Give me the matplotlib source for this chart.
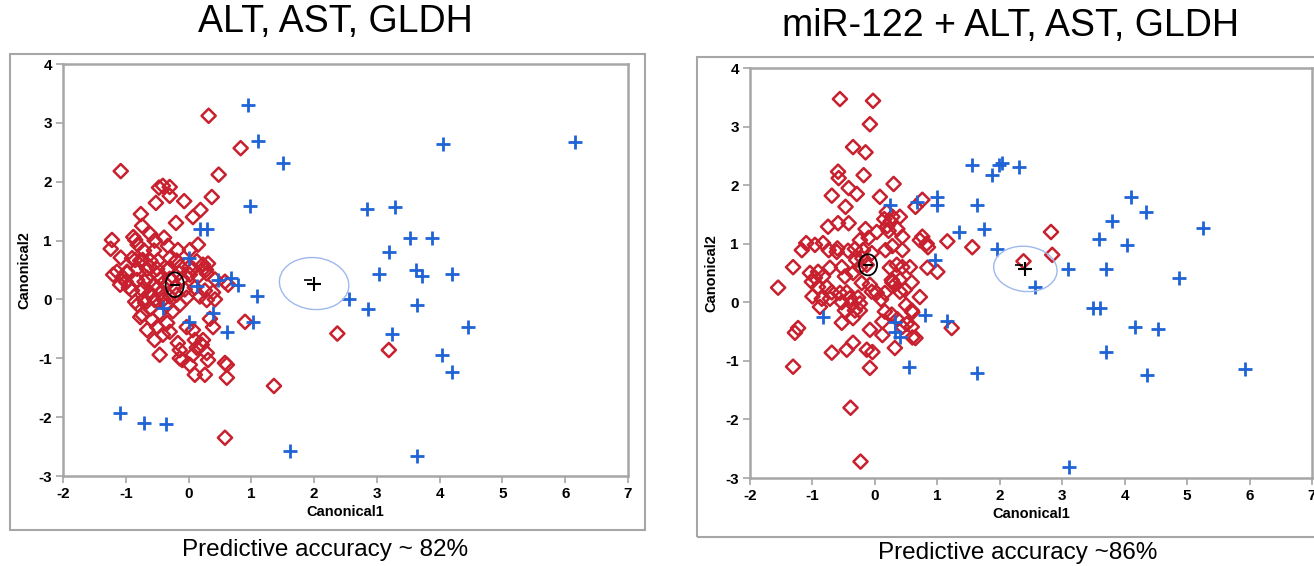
import numpy as np
import matplotlib
matplotlib.use("Agg")
import matplotlib.pyplot as plt
from matplotlib.patches import Ellipse, Rectangle

plt.rcParams['font.family'] = ['Liberation Sans', 'DejaVu Sans']
plt.rcParams['axes.unicode_minus'] = False

# ---- data: panel 1 (ALT, AST, GLDH) ----
left_red_x = [0.32, -1.08, 0.83, 0.48, 0.37, 0.19, 0.07, -0.07, -0.20, -0.52, -0.47, -0.41, -0.30, -0.30,
              -0.76, -0.74, -0.61, -1.22, -1.24, -1.08, -0.88, -0.85, -0.81, -0.54, -0.39, -0.71, -0.55,
              -0.33, -0.17, 0.02, 0.15, -0.85, -0.73, -1.14, -0.98, -0.82, -0.66, -0.50, -0.32, -0.13,
              0.02, 0.24,
              -1.20, -1.09, -0.98, -0.82, -0.66, -0.50, -0.34, -0.74, -0.61, -0.49, -0.85, -0.69, -0.54,
              -0.74, -0.58, -0.46, -0.66, -0.50, -0.34, -0.54, -0.41, -0.30, -0.46, -0.17, -0.14, -0.14,
              -0.03, 0.07, 0.10, 0.13, 0.07, 0.02, 0.23, 0.21, 0.29, 0.31, 0.58, 0.39, 0.34, 0.29, 0.39,
              0.26, 0.10, -0.03, -0.14, -0.19, -0.06, 0.15, 0.29, 0.31, 0.23, 0.07, 0.13, 0.42, 0.58,
              0.90, -0.19, -0.30, -0.49, -0.61, -0.77, -0.90, -0.71, -0.81, -0.58, -0.45, -0.35, -0.45,
              -0.55, -0.70, -0.40, -0.30, -0.22, -0.10, -0.25, -0.60, -0.35, -0.90, -1.00, -0.30,
              -0.77, 0.10, 0.26, 0.61, 0.61, 0.58, 1.36, 0.63, 0.28, 0.02, -0.10, 2.37, 3.19, 0.42,
              -1.05, -0.95, -0.62, -0.15, 0.18]
left_red_y = [3.12, 2.18, 2.57, 2.12, 1.74, 1.52, 1.40, 1.67, 1.30, 1.64, 1.90, 1.93, 1.91, 1.76,
              1.45, 1.25, 1.11, 1.01, 0.86, 0.71, 1.06, 1.01, 0.93, 1.00, 1.05, 0.83, 0.83,
              0.91, 0.84, 0.84, 0.93, 0.67, 0.67, 0.47, 0.47, 0.52, 0.52, 0.52, 0.52, 0.56,
              0.56, 0.52,
              0.42, 0.25, 0.45, 0.33, 0.37, 0.42, 0.50, 0.16, 0.11, 0.20, -0.04, -0.06, -0.01,
              -0.26, -0.35, -0.23, -0.52, -0.47, -0.40, -0.69, -0.60, -0.55, -0.94, -0.74, -0.86, -1.00,
              -0.47, -0.52, -0.69, -0.82, -0.94, -1.11, -0.69, -0.77, -0.91, -1.03, -1.08, -0.47, -0.33,
              -0.01, 0.12, 0.15, 0.20, 0.03, -0.09, 0.08, 0.17, 0.39, 0.44, 0.61, 0.59, 0.52, 0.65, 0.34,
              0.30, -0.38, 0.66, 0.70, 0.66, 0.66, 0.66, 0.70, 0.00, -0.09, 0.05, 0.10, 0.25, 0.35,
              0.25, 0.30, 0.00, 0.05, 0.20, 0.35, -0.20, -0.15, -0.10, 0.15, 0.30, 0.35,
              -0.30, -1.28, -1.28, -1.11, -1.33, -2.35, -1.47, 0.25, 0.50, 0.42, -1.03, -0.58, -0.86, 0.00,
              0.38, 0.20, 0.55, 0.45, 0.05]
left_blue_x = [0.95, 1.10, 1.50, 0.98, 0.18, 0.29, 0.00, 0.47, 0.68, 0.78, 1.09, 1.03, 0.61, 0.39, 0.00,
               0.13, -0.41, -1.09, -0.71, -0.36, 1.61, 4.05, 6.15, 2.84, 3.29, 3.53, 3.88, 3.20, 3.03,
               3.62, 3.72, 4.20, 2.56, 2.86, 3.64, 4.45, 3.24, 4.04, 4.19, 3.64]
left_blue_y = [3.30, 2.70, 2.32, 1.59, 1.20, 1.20, 0.71, 0.33, 0.37, 0.25, 0.05, -0.38, -0.55, -0.23, -0.38,
               0.22, -0.14, -1.93, -2.10, -2.11, -2.57, 2.64, 2.68, 1.54, 1.57, 1.05, 1.05, 0.81, 0.43,
               0.50, 0.40, 0.43, 0.01, -0.16, -0.09, -0.47, -0.58, -0.94, -1.24, -2.66]
left_red_mean = (-0.22, 0.25, 0.29, 0.42)   # x, y, circle width, circle height
left_blue_mean = (2.00, 0.27, 1.11, 0.88)

# ---- data: panel 2 (miR-122 + ALT, AST, GLDH) ----
right_red_x = [-0.56, -0.03, -0.08, -0.35, -0.15, -0.59, -0.58, -0.18, 0.30, -0.42, -0.29, -0.69, 0.08,
               -0.47, 0.76, 0.65, 0.19, 0.28, 0.40, -0.75, -0.59, -0.42, -0.15, 0.03, 0.20, 0.36, 0.44,
               -0.24, 0.72, 0.76, 0.83, 1.16, 1.56, 0.85, -1.10, -1.17, -0.96, -0.83,
               -0.74, -0.61, -0.43, -0.32, -0.19, -0.05, 0.17, 0.28, 0.44, -1.31,
               -1.04, -0.91, -0.96, -0.83, -0.72, -0.53, -0.48, -0.35, -0.24, -0.13, 0.24, 0.35, 0.44,
               0.56, 0.40, 0.28, 0.59, 0.84, 1.00, -1.55, -1.01, -0.91, -0.77, -0.69, -1.00, -0.85, -0.72,
               -0.56, -0.45, -0.40, -0.53, -0.37, -0.27, -0.24, -0.24, -0.32, -0.48, -0.21, -0.08, -0.05,
               0.03, 0.16, 0.27, 0.32, 0.40, 0.48, 0.72, 0.59, -0.88, -0.53, -0.35, 0.16, 0.27, 0.12,
               0.36, 0.51, 0.59, 0.60, 0.44, -0.08, 0.12, 0.32, -1.23, -1.28, -0.69, -0.45, -0.35, -0.13,
               -0.04, -1.31, -0.08, 1.23, -0.39, -0.23, 0.65, 0.60, 2.82, 2.84, 2.38,
               0.15, 0.25, 0.22, -0.10, -0.20, -0.30, -0.60, 0.10, 0.50]
right_red_y = [3.47, 3.44, 3.04, 2.65, 2.56, 2.23, 2.12, 2.17, 2.02, 1.95, 1.85, 1.82, 1.80,
               1.63, 1.75, 1.63, 1.54, 1.46, 1.46, 1.29, 1.35, 1.35, 1.25, 1.20, 1.30, 1.25, 1.12,
               1.06, 1.06, 1.12, 1.00, 1.04, 0.94, 0.94, 1.01, 0.89, 0.98, 1.01,
               0.89, 0.86, 0.88, 0.91, 0.89, 0.84, 0.89, 0.96, 0.89, 0.60,
               0.50, 0.52, 0.42, 0.44, 0.59, 0.60, 0.44, 0.50, 0.60, 0.64, 0.59, 0.64, 0.60,
               0.60, 0.38, 0.34, 0.34, 0.59, 0.52, 0.25, 0.35, 0.26, 0.26, 0.17, 0.10, 0.06, 0.06,
               0.16, 0.17, 0.07, 0.00, -0.02, 0.08, -0.02, -0.14, -0.14, -0.14, 0.33, 0.30, 0.18,
               0.16, 0.16, 0.38, 0.30, 0.18, 0.21, 0.09, -0.14, -0.08, -0.35, -0.27, -0.16, -0.21, -0.33,
               -0.29, -0.37, -0.42, -0.60, -0.42, -0.47, -0.56, -0.78, -0.44, -0.52, -0.86, -0.81, -0.69, -0.81,
               -0.85, -1.10, -1.12, -0.44, -1.80, -2.72, -0.61, -0.17, 1.20, 0.81, 0.70,
               1.42, 1.38, 1.22, 1.10, 0.75, 0.72, 0.92, 0.05, -0.05]
right_blue_x = [0.24, 0.68, 1.00, 1.00, 1.56, 1.63, 1.34, 1.74, 1.88, 1.98, 2.04, 1.96, 0.97, 2.30,
                4.10, 4.34, 3.80, 5.25, 3.59, 4.04, 3.10, 3.70, 4.87, 2.57, 3.50, 3.61, 4.17, 4.53,
                3.70, 4.36, 5.92, 3.11, -0.83, 0.33, 0.32, 0.40, 0.81, 1.16, 0.54, 1.63]
right_blue_y = [1.66, 1.71, 1.80, 1.66, 2.34, 1.66, 1.20, 1.25, 2.17, 2.34, 2.38, 0.91, 0.72, 2.31,
                1.80, 1.54, 1.39, 1.27, 1.08, 0.98, 0.57, 0.57, 0.42, 0.26, -0.10, -0.10, -0.42, -0.46,
                -0.85, -1.24, -1.14, -2.81, -0.25, -0.34, -0.50, -0.59, -0.21, -0.32, -1.10, -1.20]
right_red_mean = (-0.11, 0.64, 0.29, 0.36)
right_blue_mean = (2.41, 0.57, 1.02, 0.77)

titles = ["ALT, AST, GLDH", "miR-122 + ALT, AST, GLDH"]
captions = ["Predictive accuracy ~ 82%", "Predictive accuracy ~86%"]
x_ticks = list(range(-2, 8))
y_ticks = list(range(-3, 5))

RED = "#c8202e"
BLUE = "#1f63d6"
FRAME = "#a6a6a6"

fig = plt.figure(figsize=(13.14, 5.66), dpi=100)

# outer frames around each panel
fig.patches.append(Rectangle((10 / 1314, 1 - 530 / 566), 635 / 1314, 476 / 566,
                             transform=fig.transFigure, fill=False, ec=FRAME, lw=1.5))
fig.patches.append(Rectangle((697 / 1314, 1 - 537 / 566), 640 / 1314, 480 / 566,
                             transform=fig.transFigure, fill=False, ec=FRAME, lw=1.5))

ax1 = fig.add_axes([63 / 1314, 1 - 476 / 566, 565 / 1314, 412 / 566])
ax2 = fig.add_axes([750 / 1314, 1 - 478 / 566, 562 / 1314, 410 / 566])

panels = [
    (ax1, left_red_x, left_red_y, left_blue_x, left_blue_y, left_red_mean, left_blue_mean),
    (ax2, right_red_x, right_red_y, right_blue_x, right_blue_y, right_red_mean, right_blue_mean),
]

for ax, rx, ry, bx, by, rm, bm in panels:
    ax.scatter(rx, ry, marker='D', s=52, facecolors='none', edgecolors=RED, linewidths=1.8, zorder=3)
    ax.scatter(bx, by, marker='+', s=100, color=BLUE, linewidths=2.0, zorder=3)
    # group means with confidence ellipses
    ax.add_patch(Ellipse((bm[0], bm[1]), bm[2], bm[3], angle=-8, fill=False, ec="#9fb8ee", lw=1.0, zorder=4))
    ax.add_patch(Ellipse((rm[0], rm[1]), rm[2], rm[3], fill=False, ec="black", lw=1.3, zorder=5))
    ax.plot([rm[0]], [rm[1]], marker='_', color='black', ms=7, mew=1.5, zorder=6)
    ax.plot([bm[0]], [bm[1]], marker='+', color='black', ms=10, mew=1.5, zorder=6)
    ax.plot([bm[0] - 0.1], [bm[1] + 0.06], marker='_', color='black', ms=6, mew=1.2, zorder=6)

    ax.set_xlim(-2, 7)
    ax.set_ylim(-3, 4)
    ax.set_xticks(x_ticks)
    ax.set_yticks(y_ticks)
    for sp in ax.spines.values():
        sp.set_color(FRAME)
        sp.set_linewidth(1.8)
    ax.tick_params(direction='out', length=5, width=1.2, color=FRAME, labelsize=11, pad=3)
    for lab in ax.get_xticklabels() + ax.get_yticklabels():
        lab.set_fontweight('bold')
    ax.set_xlabel("Canonical1", fontsize=10.5, fontweight='bold', labelpad=3)
    ax.set_ylabel("Canonical2", fontsize=10.5, fontweight='bold', labelpad=5)

fig.text(335 / 1314, 1 - 22 / 566, titles[0], ha='center', va='center', fontsize=27)
fig.text(1010 / 1314, 1 - 26 / 566, titles[1], ha='center', va='center', fontsize=27)
fig.text(325 / 1314, 1 - 550 / 566, captions[0], ha='center', va='center', fontsize=17.5)
fig.text(1018 / 1314, 1 - 553 / 566, captions[1], ha='center', va='center', fontsize=17.5)

fig.savefig("out.png", dpi=100)
